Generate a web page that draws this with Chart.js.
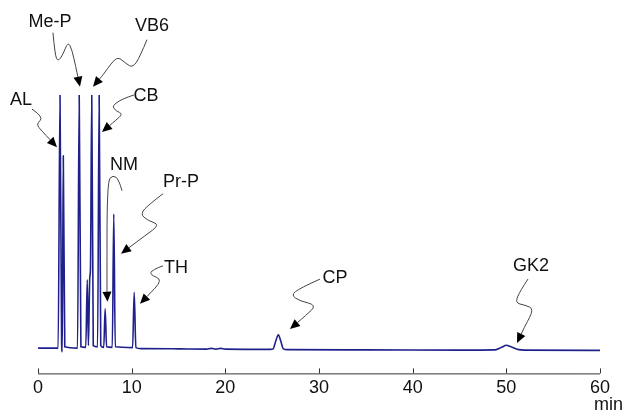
<!DOCTYPE html>
<html>
<head>
<meta charset="utf-8">
<script src="https://cdn.jsdelivr.net/npm/chart.js@4/dist/chart.umd.min.js"></script>
<style>
    html, body { margin: 0; padding: 0; background: #fff; }
    #wrap { width: 626px; height: 414px; }
</style>
</head>
<body>
<div id="wrap"><canvas id="chrom"></canvas></div>
<script>
// ---- Data ----------------------------------------------------------------
const times = [
    0, 2.15, 2.35, 2.52, 2.59, 2.70, 2.86,
    4.22, 4.40, 4.58,
    5.10, 5.26, 5.38, 5.53, 5.60, 5.74, 5.90,
    6.36, 6.53, 6.70,
    7.02, 7.17, 7.32,
    7.93, 8.09, 8.25,
    10.10, 10.27, 10.45,
    11, 15, 18, 18.5, 19, 19.5, 20,
    24.8, 25.1, 25.4, 25.66, 25.9, 26.2, 26.6,
    35, 45, 48.8, 49.5, 50.0, 50.5, 51.3, 52, 60
];
const signal = [
    0, 0, 100, 2, -1.5, 76, 0.5,
    0, 100, 0.5,
    0.3, 27, 1, 28, 31, 100, 1,
    0.5, 100, 1,
    0.3, 15.5, 0.5,
    0.3, 53, 0.5,
    0.2, 22, 0.2,
    -0.2, -0.3, -0.4, -0.1, -0.4, -0.1, -0.4,
    -0.5, -0.3, 3, 5.3, 3, -0.3, -0.6,
    -0.7, -0.8, -0.7, 0.3, 1.1, 0.5, -0.6, -0.8, -0.9
];
const xTicks = [0, 10, 20, 30, 40, 50, 60];

// Peak names and where each arrow points (time, signal)
const peakNames = ["AL", "Me-P", "VB6", "CB", "NM", "Pr-P", "TH", "CP", "GK2"];
const arrowTipT = [2.03, 4.48, 5.87, 6.83, 7.42, 8.86, 10.89, 26.9, 51.14];
const arrowTipV = [79.4, 103.3, 103.3, 85.4, 18.3, 37.3, 17.5, 7.5, 2.0];

// Squiggle drawing (pixel offsets from the arrow tip)
const labelOffsets = [
    [-36, -47], [-30, -65], [59, -61], [44, -36], [16.5, -137],
    [60, -72], [36, -36], [45, -51], [14, -77]
];
const squiggles = [
    [[-25, -38], [-13, -30], [-21, -23], [-15, -16], [0, 0]],
    [[-27, -54], [-25, -32], [-22, -25], [-17, -32], [-12, -45], [-8, -37], [-4, -19], [0, 0]],
    [[54, -47], [47, -30], [40, -19], [33, -23], [25, -30], [18, -23], [11, -13], [0, 0]],
    [[32, -37], [20, -33], [10, -26], [14, -21], [21, -18], [13, -11], [0, 0]],
    [[14.5, -111], [11.5, -122], [5.5, -127], [-0.5, -120], [-0.5, -9], [0, 0]],
    [[42, -60], [29, -50], [19, -40], [27, -33], [39, -29], [24, -18], [0, 0]],
    [[23, -38], [12, -34], [10, -29], [23, -24], [0, 0]],
    [[30, -50], [10, -41], [1, -34], [10, -28], [27, -24], [15, -13], [0, 0]],
    [[11, -64], [3, -52], [-2, -40], [8, -38], [17, -34], [8, -17], [0, 0]]
];

const FONT = "Arial, 'Liberation Sans', Helvetica, sans-serif";

// ---- Plugin: bottom axis with upward ticks, "min", peak labels ----------
const decorations = {
    id: "decorations",
    afterDraw(chart) {
        const { ctx, chartArea, scales } = chart;
        const x = scales.x, y = scales.y;
        ctx.save();

        // axis line + ticks pointing up
        const yAxis = chartArea.bottom;
        ctx.strokeStyle = "#333";
        ctx.lineWidth = 1;
        ctx.beginPath();
        ctx.moveTo(x.getPixelForValue(0), yAxis + 0.5);
        ctx.lineTo(x.getPixelForValue(60), yAxis + 0.5);
        xTicks.forEach((t) => {
            const px = Math.round(x.getPixelForValue(t)) + 0.5;
            ctx.moveTo(px, yAxis);
            ctx.lineTo(px, yAxis - 5);
        });
        ctx.stroke();

        // unit
        ctx.fillStyle = "#111";
        ctx.font = "18px " + FONT;
        ctx.textAlign = "left";
        ctx.textBaseline = "middle";
        ctx.fillText("min", x.getPixelForValue(60) - 6, yAxis + 32);

        // peak labels with wavy arrows
        peakNames.forEach((name, i) => {
            const tx = x.getPixelForValue(arrowTipT[i]);
            const ty = y.getPixelForValue(arrowTipV[i]);
            const pts = squiggles[i].map(([dx, dy]) => [tx + dx, ty + dy]);

            // arrowhead direction from the previous point
            const [px, py] = pts[pts.length - 2];
            const ang = Math.atan2(ty - py, tx - px);
            const len = 10, half = 4.5;
            const bx = tx - len * Math.cos(ang), by = ty - len * Math.sin(ang);
            pts[pts.length - 1] = [bx, by];

            ctx.strokeStyle = "#444";
            ctx.lineWidth = 1;
            ctx.beginPath();
            ctx.moveTo(pts[0][0], pts[0][1]);
            for (let k = 1; k < pts.length - 1; k++) {
                const mx = (pts[k][0] + pts[k + 1][0]) / 2;
                const my = (pts[k][1] + pts[k + 1][1]) / 2;
                ctx.quadraticCurveTo(pts[k][0], pts[k][1], mx, my);
            }
            ctx.lineTo(bx, by);
            ctx.stroke();

            ctx.fillStyle = "#000";
            ctx.beginPath();
            ctx.moveTo(tx, ty);
            ctx.lineTo(bx + half * Math.sin(ang), by - half * Math.cos(ang));
            ctx.lineTo(bx - half * Math.sin(ang), by + half * Math.cos(ang));
            ctx.closePath();
            ctx.fill();

            ctx.fillStyle = "#111";
            ctx.textAlign = "center";
            ctx.textBaseline = "middle";
            ctx.fillText(name, tx + labelOffsets[i][0], ty + labelOffsets[i][1]);
        });

        ctx.restore();
    }
};

new Chart(document.getElementById("chrom"), {
    type: "line",
    data: {
        datasets: [{
            data: times.map((t, i) => ({ x: t, y: signal[i] })),
            borderColor: "#20208c",
            borderWidth: 1.6,
            pointRadius: 0,
            fill: false,
            tension: 0,
            cubicInterpolationMode: "monotone"
        }]
    },
    options: {
        responsive: true,
        maintainAspectRatio: false,
        animation: false,
        layout: { padding: { top: 95, left: 38, right: 26, bottom: 11 } },
        plugins: { legend: { display: false }, tooltip: { enabled: false } },
        scales: {
            x: {
                type: "linear",
                min: 0,
                max: 60,
                afterBuildTicks: (axis) => { axis.ticks = xTicks.map((v) => ({ value: v })); },
                grid: { display: false, drawTicks: false },
                border: { display: false },
                ticks: { color: "#111", font: { size: 18, family: FONT }, padding: 4, maxRotation: 0 }
            },
            y: {
                display: false,
                min: -10,
                max: 100
            }
        }
    },
    plugins: [decorations]
});
</script>
</body>
</html>
